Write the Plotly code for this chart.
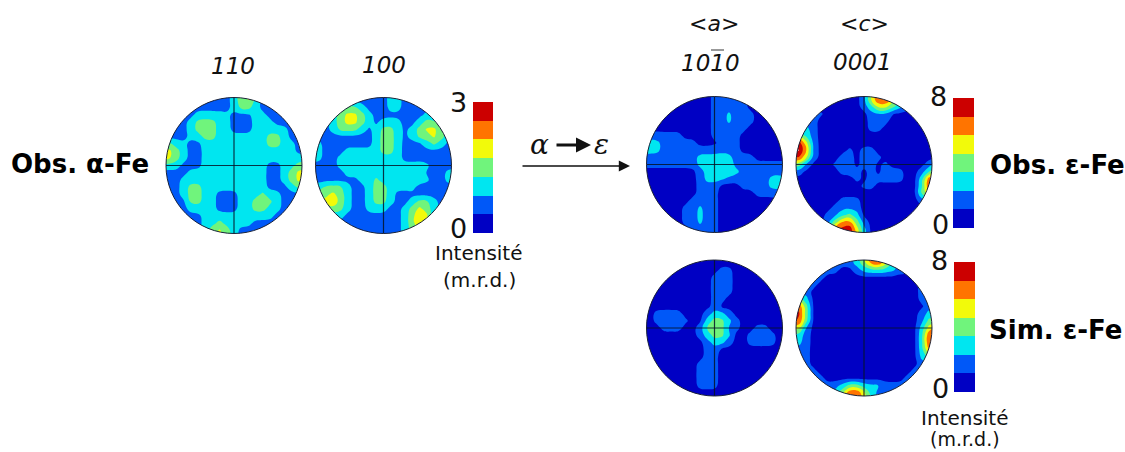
import numpy as np
import plotly.graph_objects as go

W, H = 1125, 452

# Band index (0-7) of each pole figure, top row first.
POLE_110 = [
"111111111123431111111","111111111123421111111","111111111123321111111",
"111112222211122111111","111123332211122211111","111123332211122222111",
"111122332222222332111","332211222222222332211","443211222222222222211",
"443211222222222222222","222111222222222112233","111122222222222112344",
"111222222222222112344","111233222222222111233","111233221112223221111",
"111133221112233321111","111122221112233221111","111111222222222211111",
"111111223222211111111","111111234321111111111","111111244321111111111",
]
POLE_100 = [
"111111111112211111111","111111111112211111111","111123321112211111111",
"111234432111111121111","111234432122211233211","111233321233212344321",
"111111111233212334321","221111111233211123211","221112222233211111111",
"221122222222211111111","111122322222222221111","111112222222222311122",
"111111122322222221122","223332112332222111111","333432112332111111111",
"444532112332112332111","333332112221123432111","222221111111123541111",
"111111111111123551111","111111111111123331111","111111111111122111111",
]
POLE_1010 = [
"000000000011111000000","000000000011111000000","000000000011111000000",
"000000000011211100000","000000000011211100000","000000000011111000000",
"111111000011110000000","222111110001110000000","222111111111110000000",
"111111112222211100000","111111112223211111111","000000001222321111111",
"000000001222111111222","000000001110001111221","000000001110000011111",
"000000011110000000000","000000112110000000000","000000112110000000000",
"000000112110000000000","000000011110000000000","000000011110000000000",
]
POLE_0001 = [
"000000000013664210000","000000000014664210000","000000000012443210000",
"111110000001110000000","111100000001110000000","222100000001100000000",
"332100000000000000000","674100000000000000000","775100001011000000000",
"664100011011100000000","331000111011010000012","110000011101011100124",
"000000000101111100266","000000000011000000266","000000000000000000355",
"000000011100000000111","000000111100000000000","000001123200000000000",
"000001355310000000000","000002667420000000000","000002667420000000000",
]
POLE_SIM_A = [
"000000000000000000000","000000000000000000000","000000000001100000000",
"000000000011100000000","000000000011100000000","000000000011100000000",
"000000000011000000000","000000000010000000000","001111000122100000000",
"001111100233210000000","000111001343110011000","000000001233200111100",
"000000000122100111100","000000000110000000000","000000000110000000000",
"000000001110000000000","000000001110000000000","000000001110000000000",
"000000001110000000000","000000000000000000000","000000000000000000000",
]
POLE_SIM_C = [
"111111111246642111111","111111111235642111111","111111100122222111111",
"111110000000000001111","111100000000000000111","111000000000000000111",
"332000000000000000111","663000000000000000011","663000000000000000122",
"663000000000000000133","441000000000000000245","221000000000000000266",
"221000000000000000266","111000000000000000255","111000000000000000233",
"111000000000000000111","111100000000000001111","111110000000000011111",
"111111123322211111111","111111236642111111111","111111246642111111111",
]
BAND_COLORS = ["#0000c4", "#0058f8", "#00e6f0", "#70f47c",
               "#f2fa0a", "#ff7400", "#cc0000", "#ffffff"]
COLORBAR_BANDS = [0, 1, 2, 3, 4, 5, 6]

PANELS = [  # rows, centre x, centre y, radius in pixels
    (POLE_110, 234, 165.5, 68), (POLE_100, 383.5, 165.5, 68),
    (POLE_1010, 714.5, 164.5, 68), (POLE_0001, 864, 164.5, 68),
    (POLE_SIM_A, 714.5, 328, 68), (POLE_SIM_C, 864, 328, 68),
]
BARS = [(473, 493, 102, 233), (953, 974, 98, 228), (954, 975, 262, 392)]
EDGE = 1.06
RANGE = 1.09


def px(x):
    return x / W


def py(y):
    return 1 - y / H


def soften(z):
    """Round the staircase of the hand-read grid, as the blurred original is."""
    a = np.array(z, dtype=float)
    pad = np.pad(a, 1, mode="edge")
    k = np.array([1, 5, 1]) / 7
    b = k[0] * pad[:-2, :] + k[1] * pad[1:-1, :] + k[2] * pad[2:, :]
    return (k[0] * b[:, :-2] + k[1] * b[:, 1:-1] + k[2] * b[:, 2:]).tolist()


fig = go.Figure()
layout = {}
shapes = []
scale = [[k / 7, c] for k, c in enumerate(BAND_COLORS)]
grid = np.linspace(-EDGE, EDGE, 21)
K = 0.5523
for n, (rows, cx, cy, r) in enumerate(PANELS, start=1):
    assert all(len(s) == 21 for s in rows) and len(rows) == 21, n
    z = soften([[int(c) for c in s] for s in rows][::-1])
    xa, ya = f"x{n}", f"y{n}"
    fig.add_trace(go.Contour(
        x=grid, y=grid, z=z, xaxis=xa, yaxis=ya, zmin=0, zmax=7, zauto=False,
        autocontour=False, colorscale=scale, showscale=False, hoverinfo="skip",
        contours=dict(start=0.5, end=6.5, size=1, coloring="fill", showlines=False),
        line=dict(width=0, smoothing=1.3)))
    layout[f"xaxis{n}"] = dict(domain=[px(cx - r * RANGE), px(cx + r * RANGE)],
                               range=[-RANGE, RANGE], visible=False, anchor=ya)
    layout[f"yaxis{n}"] = dict(domain=[py(cy + r * RANGE), py(cy - r * RANGE)],
                               range=[-RANGE, RANGE], visible=False, anchor=xa)
    e = RANGE + 0.2
    mask = (f"M{-e},{-e} L{e},{-e} L{e},{e} L{-e},{e} Z "
            f"M1,0 C1,{K} {K},1 0,1 C{-K},1 -1,{K} -1,0 "
            f"C-1,{-K} {-K},-1 0,-1 C{K},-1 1,{-K} 1,0 Z")
    shapes.append(dict(type="path", path=mask, xref=xa, yref=ya,
                       fillcolor="white", line=dict(width=0), layer="above"))
    line = dict(color="rgba(5,20,40,0.85)", width=1.2)
    shapes.append(dict(type="line", x0=-1, x1=1, y0=0, y1=0, xref=xa, yref=ya, line=line))
    shapes.append(dict(type="line", x0=0, x1=0, y0=-1, y1=1, xref=xa, yref=ya, line=line))
    shapes.append(dict(type="circle", x0=-1, x1=1, y0=-1, y1=1, xref=xa, yref=ya,
                       line=dict(color="#1a2238", width=1)))

for m, (x0, x1, y0, y1) in enumerate(BARS, start=len(PANELS) + 1):
    xa, ya = f"x{m}", f"y{m}"
    fig.add_trace(go.Heatmap(
        z=[[b] for b in COLORBAR_BANDS], xaxis=xa, yaxis=ya, zmin=0, zmax=7,
        colorscale=scale, showscale=False, hoverinfo="skip", xgap=0, ygap=0))
    layout[f"xaxis{m}"] = dict(domain=[px(x0), px(x1)], visible=False, anchor=ya)
    layout[f"yaxis{m}"] = dict(domain=[py(y1), py(y0)], visible=False, anchor=xa,
                               range=[-0.5, 6.5])

# overline of the Miller-Bravais index
shapes.append(dict(type="line", xref="paper", yref="paper", x0=px(711), x1=px(724),
                   y0=py(50), y1=py(50), line=dict(color="#333", width=1)))

SANS = "DejaVu Sans"
SERIF = "DejaVu Serif"


def label(text, x, y, size, family=SANS, bold=False, italic=False, color="#111"):
    return dict(
        text=f"<b>{text}</b>" if bold else (f"<i>{text}</i>" if italic else text),
        x=px(x), y=py(y), xref="paper", yref="paper", xanchor="center",
        yanchor="middle", showarrow=False, font=dict(family=family, size=size, color=color))


annotations = [
    label("Obs. α-Fe", 80, 164, 26, bold=True, color="#000"),
    label("Obs. ε-Fe", 1057, 165, 26, bold=True, color="#000"),
    label("Sim. ε-Fe", 1055, 330, 26, bold=True, color="#000"),
    label("110", 233, 66, 23, italic=True),
    label("100", 384, 65, 23, italic=True),
    label("&lt;a&gt;", 714, 23, 22, italic=True),
    label("&lt;c&gt;", 864, 23, 22, italic=True),
    label("1010", 710, 63, 23, italic=True),
    label("0001", 862, 62, 23, italic=True),
    label("3", 458, 102, 27), label("0", 458, 229, 27),
    label("8", 938, 96, 27), label("0", 940, 224, 27),
    label("8", 939, 260, 27), label("0", 940, 388, 27),
    label("Intensité", 479, 253, 20), label("(m.r.d.)", 479, 280, 20),
    label("Intensité", 965, 418, 20), label("(m.r.d.)", 965, 439, 19),
    label("α", 539, 144, 28, family=SERIF, italic=True),
    label("ε", 601, 144, 28, family=SERIF, italic=True),
    dict(x=px(630), y=py(166), ax=-109, ay=0, xref="paper", yref="paper",
         text="", showarrow=True, arrowhead=2,
         arrowsize=1.6, arrowwidth=1.4, arrowcolor="#111"),
    dict(x=px(591), y=py(145), ax=-36, ay=0, xref="paper", yref="paper",
         text="", showarrow=True, arrowhead=2,
         arrowsize=1, arrowwidth=3, arrowcolor="#111"),
]

fig.update_layout(width=W, height=H, margin=dict(l=0, r=0, t=0, b=0),
                  paper_bgcolor="white", plot_bgcolor="white", showlegend=False,
                  shapes=shapes, annotations=annotations, **layout)
fig.write_html("out.html", post_script="document.body.style.margin='0';",
               config=dict(displayModeBar=False))
